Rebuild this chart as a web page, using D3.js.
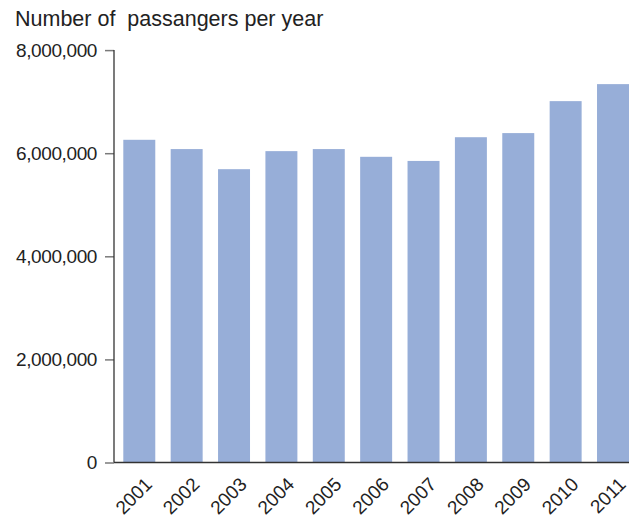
<!DOCTYPE html>
<html>
<head>
<meta charset="utf-8">
<script src="https://cdn.jsdelivr.net/npm/d3@7"></script>
<style>
  html, body { margin: 0; padding: 0; background: #fff; }
  text { font-family: "Liberation Sans", Arial, Helvetica, sans-serif; }
</style>
</head>
<body>
<div id="container"></div>
<script>
const width = 633, height = 520;

// --- Data ---
const years = ["2001", "2002", "2003", "2004", "2005", "2006", "2007", "2008", "2009", "2010", "2011"];
const passengers = [6260000, 6080000, 5690000, 6040000, 6080000, 5930000, 5850000, 6310000, 6390000, 7010000, 7340000];
const yTicks = [0, 2000000, 4000000, 6000000, 8000000];

// --- Layout ---
const axisX = 114;
const y0 = 462.5, yTop = 50.1;

const svg = d3.select("#container").append("svg")
  .attr("width", width).attr("height", height);

const x = d3.scaleBand().domain(years)
  .range([123.3, 629]).paddingInner(0.325).paddingOuter(0);
const y = d3.scaleLinear().domain([0, 8000000]).range([y0, yTop]);

// --- Bars ---
svg.selectAll("rect.bar").data(years.map((yr, i) => ({ yr, v: passengers[i] })))
  .join("rect")
  .attr("class", "bar")
  .attr("x", d => x(d.yr))
  .attr("y", d => y(d.v))
  .attr("width", x.bandwidth())
  .attr("height", d => y0 - y(d.v))
  .attr("fill", "#97aed8");

// --- Y axis ---
const yAxis = svg.append("g")
  .attr("transform", `translate(${axisX},0)`)
  .call(d3.axisLeft(y).tickValues(yTicks).tickSize(9).tickPadding(8)
    .tickFormat(d3.format(",")));
yAxis.select(".domain").remove();
yAxis.selectAll("line").attr("stroke", "#7a7a7a").attr("stroke-width", 1.5);
yAxis.selectAll("text").attr("fill", "#222").style("font-size", "19px")
  .style("letter-spacing", "-0.4px");

svg.append("line")
  .attr("x1", axisX).attr("x2", axisX).attr("y1", y(8000000)).attr("y2", y0)
  .attr("stroke", "#333").attr("stroke-width", 1.3);

// --- X axis ---
svg.append("line")
  .attr("x1", axisX).attr("x2", 629).attr("y1", y0).attr("y2", y0)
  .attr("stroke", "#333").attr("stroke-width", 1.3);

svg.selectAll("text.xl").data(years).join("text")
  .attr("class", "xl")
  .attr("transform", d => `translate(${x(d) + x.bandwidth() / 2 + 14},${y0 + 23}) rotate(-45)`)
  .attr("text-anchor", "end")
  .attr("fill", "#222")
  .style("font-size", "19px")
  .text(d => d);

// --- Title ---
svg.append("text")
  .attr("x", 15).attr("y", 26)
  .attr("fill", "#222")
  .style("font-size", "21.5px")
  .style("white-space", "pre")
  .text("Number of  passangers per year");
</script>
</body>
</html>
